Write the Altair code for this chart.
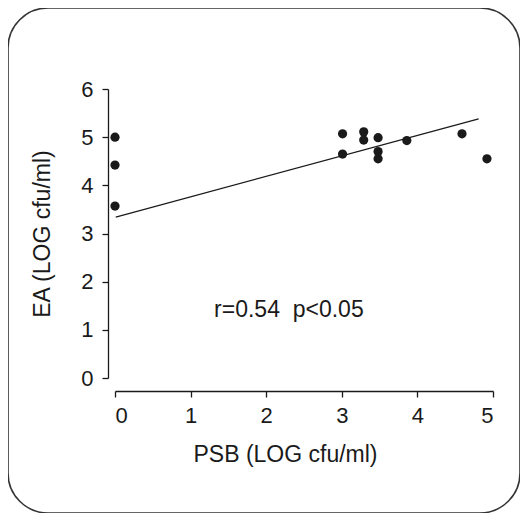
import altair as alt
import pandas as pd

# Data
psb = [0.0, 0.0, 0.0, 3.01, 3.01, 3.29, 3.29, 3.48, 3.48, 3.48, 3.86, 4.59, 4.92]
ea = [5.00, 4.42, 3.57, 5.07, 4.65, 5.11, 4.94, 4.99, 4.70, 4.55, 4.93, 5.07, 4.55]

fit_x = [0.01, 4.81]
fit_y = [3.34, 5.38]

note_text = ["r=0.54\u00a0\u00a0p<0.05"]
note_x = [2.30]
note_y = [1.41]

x_ticks = [0, 1, 2, 3, 4, 5]
y_ticks = [0, 1, 2, 3, 4, 5, 6]

pts = pd.DataFrame({"psb": psb, "ea": ea})
fit = pd.DataFrame({"psb": fit_x, "ea": fit_y})
note = pd.DataFrame({"psb": note_x, "ea": note_y, "t": note_text})

W, H = 512, 505
FONT = "Liberation Sans"
INK = "#1a1a1a"

xscale = alt.Scale(domain=[0, 5], range=[107, 485], nice=False, zero=False)
yscale = alt.Scale(domain=[0, 6], range=[370, 81], nice=False, zero=False)

xaxis = alt.Axis(
    values=x_ticks, format="d", title="PSB (LOG cfu/ml)", grid=False, offset=-122,
    tickSize=6, labelPadding=8, titlePadding=17, titleX=277,
    labelFontSize=22, titleFontSize=23, labelFont=FONT, titleFont=FONT,
    titleFontWeight="normal", domainColor=INK, tickColor=INK,
    labelColor=INK, titleColor=INK, domainWidth=1.3, tickWidth=1.3,
)
yaxis = alt.Axis(
    values=y_ticks, format="d", title="EA (LOG cfu/ml)", grid=False, offset=-100,
    tickSize=6, labelPadding=9, titlePadding=26,
    labelFontSize=22, titleFontSize=23, labelFont=FONT, titleFont=FONT,
    titleFontWeight="normal", domainColor=INK, tickColor=INK,
    labelColor=INK, titleColor=INK, domainWidth=1.3, tickWidth=1.3,
)

points = alt.Chart(pts).mark_circle(size=85, color=INK, opacity=1).encode(
    x=alt.X("psb:Q", scale=xscale, axis=xaxis),
    y=alt.Y("ea:Q", scale=yscale, axis=yaxis),
)

line = alt.Chart(fit).mark_line(color=INK, strokeWidth=1.3).encode(
    x=alt.X("psb:Q", scale=xscale),
    y=alt.Y("ea:Q", scale=yscale),
)

text = alt.Chart(note).mark_text(fontSize=23, font=FONT, color=INK).encode(
    x=alt.X("psb:Q", scale=xscale),
    y=alt.Y("ea:Q", scale=yscale),
    text="t:N",
)

chart = (
    alt.layer(line, points, text)
    .properties(width=W, height=H, padding=0, background="white")
    .configure_view(stroke="#333333", strokeWidth=1.6, cornerRadius=40)
)

chart.save("out.html", embed_options={"renderer": "svg", "actions": False})
